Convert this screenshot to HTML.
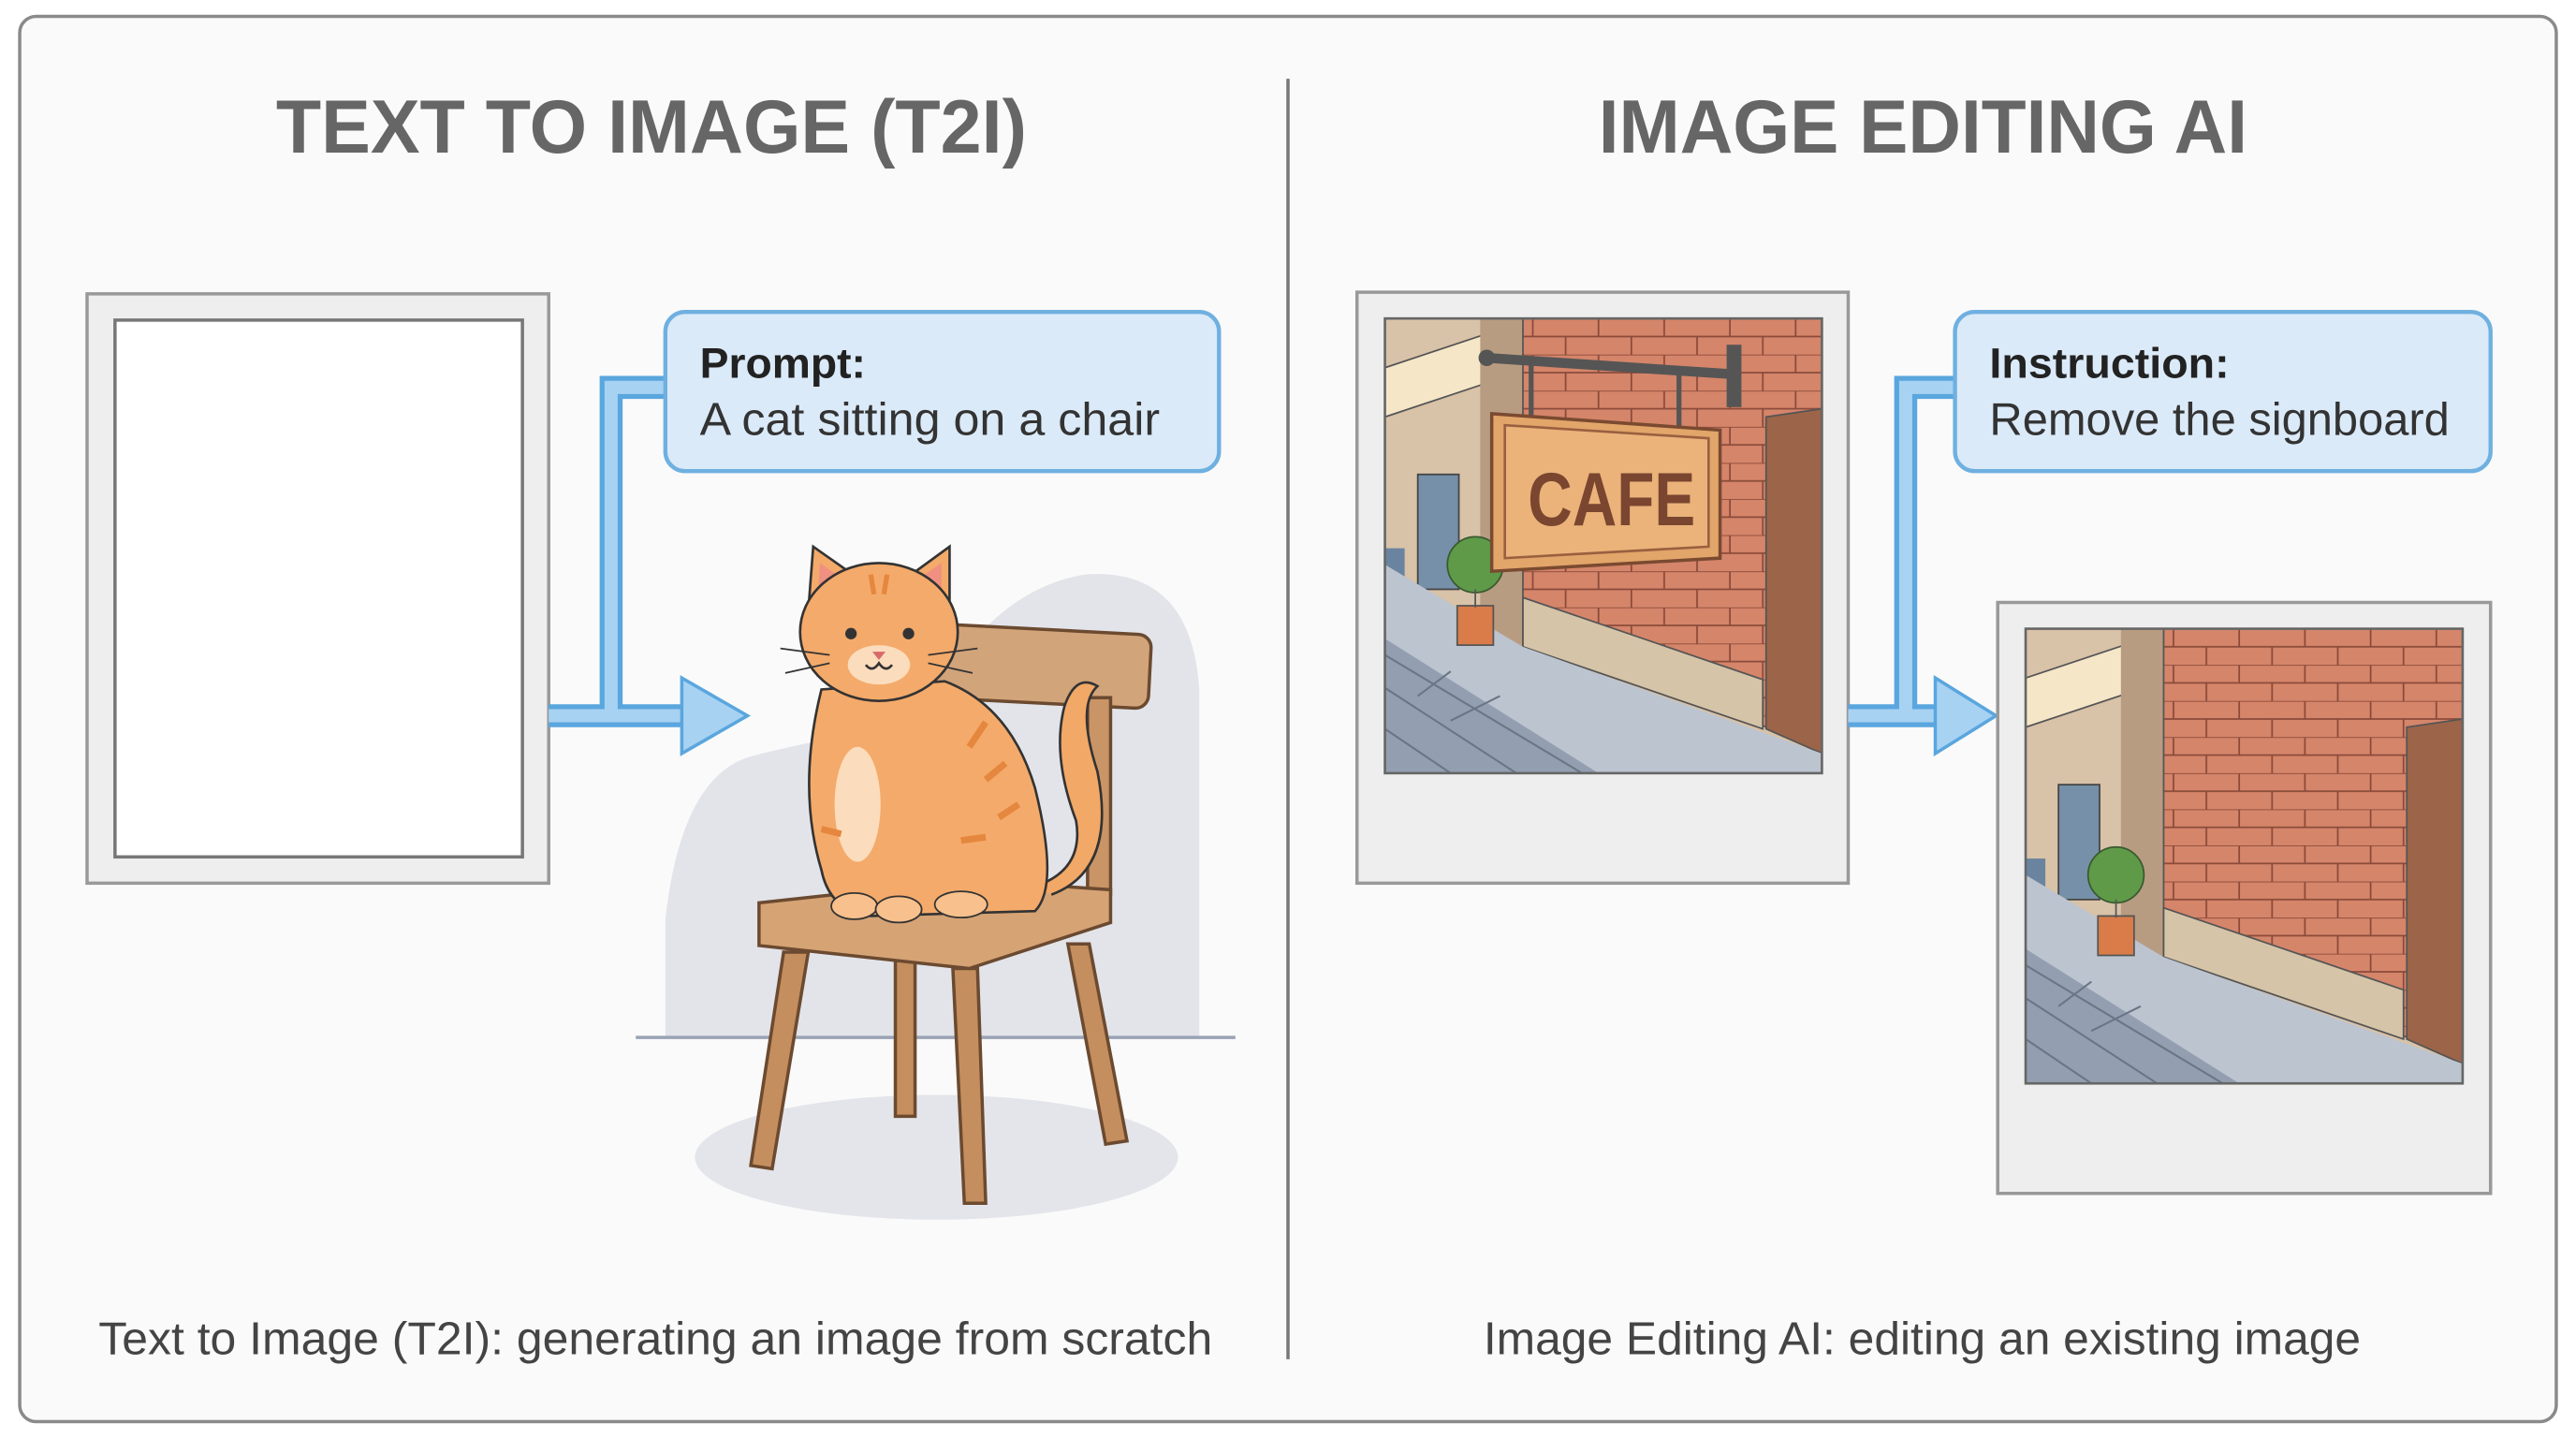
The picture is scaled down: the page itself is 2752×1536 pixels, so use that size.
<!DOCTYPE html>
<html><head><meta charset="utf-8"><style>
html,body{margin:0;padding:0;background:#fff}
svg{display:block}
text{font-family:"Liberation Sans",sans-serif}
</style></head><body>
<svg width="2752" height="1536" viewBox="0 0 1568 876" preserveAspectRatio="none" xmlns="http://www.w3.org/2000/svg">
<defs>
<pattern id="brick" width="40" height="22" patternUnits="userSpaceOnUse">
<rect width="40" height="22" fill="#d5856a"/>
<path d="M0 0H40M0 11H40M10 0V11M30 11V22" stroke="#8a4a3a" stroke-width="1"/>
</pattern>
<g id="street">
<rect x="0" y="0" width="266" height="277" fill="#d8c2a8"/>
<polygon points="0,30 60,10 60,40 0,60" fill="#f5e6c8" stroke="#555" stroke-width="1"/>
<rect x="20" y="95" width="25" height="70" fill="#7590a8" stroke="#444"/>
<rect x="0" y="140" width="12" height="60" fill="#6a84a0"/>
<rect x="58" y="0" width="26" height="200" fill="#b89c82"/>
<polygon points="84,0 266,0 266,260 84,200" fill="url(#brick)" stroke="#555"/>
<polygon points="84,170 230,220 230,250 84,200" fill="#d6c4a8" stroke="#555"/>
<polygon points="232,60 266,55 266,265 232,250" fill="#9c6448" stroke="#555"/>
<polygon points="0,150 84,200 266,265 266,277 0,277" fill="#bcc4cf"/>
<polygon points="0,195 130,277 0,277" fill="#939fb0"/>
<path d="M0 205L120 277M0 225L80 277M0 250L40 277M20 230L40 215M40 245L70 230" stroke="#6b7685" stroke-width="1.2"/>
<rect x="44" y="175" width="22" height="24" fill="#d97c4a" stroke="#555"/>
<circle cx="55" cy="150" r="17" fill="#5f9a48" stroke="#3a5a30"/>
<line x1="55" y1="165" x2="55" y2="176" stroke="#555"/>
<rect x="0" y="0" width="266" height="277" fill="none" stroke="#666" stroke-width="1.5"/>
</g>
</defs>
<rect width="1568" height="876" fill="#fff"/>
<rect x="12" y="10" width="1544" height="856" rx="10" fill="#fafafa" stroke="#8a8a8a" stroke-width="2"/>
<line x1="784" y1="48" x2="784" y2="828" stroke="#777" stroke-width="2"/>
<text x="168" y="93" font-size="46" font-weight="bold" fill="#666" textLength="457" lengthAdjust="spacingAndGlyphs">TEXT TO IMAGE (T2I)</text>
<text x="973" y="93" font-size="46" font-weight="bold" fill="#666" textLength="395" lengthAdjust="spacingAndGlyphs">IMAGE EDITING AI</text>

<rect x="53" y="179" width="281" height="359" fill="#eee" stroke="#999" stroke-width="2"/>
<rect x="70" y="195" width="248" height="327" fill="#fff" stroke="#777" stroke-width="2"/>

<path d="M405 236H372V436M334 436H420" fill="none" stroke="#5aa6de" stroke-width="14"/>
<path d="M405 236H372V436M334 436H420" fill="none" stroke="#a8d2f2" stroke-width="8"/>
<polygon points="415,413 455,436 415,459" fill="#a8d2f2" stroke="#5aa6de" stroke-width="2"/>
<rect x="405" y="190" width="337" height="97" rx="12" fill="#dbeaf8" stroke="#6fb0e0" stroke-width="2.5"/>
<text x="426" y="230" font-size="26" font-weight="bold" fill="#222" textLength="101" lengthAdjust="spacingAndGlyphs">Prompt:</text>
<text x="426" y="265" font-size="28" fill="#333" textLength="280" lengthAdjust="spacingAndGlyphs">A cat sitting on a chair</text>

<path d="M405 560Q415 470 460 460Q500 450 560 440Q600 360 660 350Q725 345 730 420L730 632H405Z" fill="#e2e4ea"/>
<line x1="387" y1="632" x2="752" y2="632" stroke="#9aa3b5" stroke-width="2"/>
<ellipse cx="570" cy="705" rx="147" ry="38" fill="#e3e5ea"/>
<rect x="555" y="383" width="145" height="45" rx="8" fill="#d2a47a" stroke="#6b4a30" stroke-width="2" transform="rotate(3 627 405)"/>
<rect x="662" y="425" width="14" height="120" fill="#c99466" stroke="#6b4a30" stroke-width="2"/>
<polygon points="477,580 492,580 470,712 457,710" fill="#c58e5e" stroke="#6b4a30" stroke-width="2"/>
<polygon points="545,585 557,585 557,680 545,680" fill="#c58e5e" stroke="#6b4a30" stroke-width="2"/>
<polygon points="580,590 595,590 600,733 587,733" fill="#c58e5e" stroke="#6b4a30" stroke-width="2"/>
<polygon points="650,575 663,575 686,695 673,697" fill="#c58e5e" stroke="#6b4a30" stroke-width="2"/>
<path d="M462 550L590 536L676 542L676 562L590 590L462 576Z" fill="#d6a374" stroke="#6b4a30" stroke-width="2"/>
<path d="M640 545Q680 530 668 470Q655 430 668 418Q655 410 648 430Q640 460 655 500Q660 530 630 540" fill="#f2a866" stroke="#333" stroke-width="1.5"/>
<path d="M500 420Q485 480 500 530Q505 555 530 558L630 555Q645 540 630 480Q615 430 575 415Z" fill="#f4aa6a" stroke="#333" stroke-width="1.5"/>
<ellipse cx="522" cy="490" rx="14" ry="35" fill="#fbdcbc"/>
<path d="M600 440L590 455M612 465L600 475M620 490L608 498M500 505L512 508M600 510L585 512" stroke="#e5873e" stroke-width="4"/>
<ellipse cx="520" cy="552" rx="14" ry="8" fill="#f8c08c" stroke="#333"/>
<ellipse cx="547" cy="554" rx="14" ry="8" fill="#f8c08c" stroke="#333"/>
<ellipse cx="585" cy="551" rx="16" ry="8" fill="#f8c08c" stroke="#333"/>
<polygon points="492,372 495,333 522,352" fill="#f4aa6a" stroke="#333" stroke-width="1.5"/>
<polygon points="578,372 578,333 552,352" fill="#f4aa6a" stroke="#333" stroke-width="1.5"/>
<polygon points="498,362 499,343 512,352" fill="#f09080"/>
<polygon points="573,362 573,343 560,352" fill="#f09080"/>
<ellipse cx="535" cy="385" rx="48" ry="42" fill="#f4aa6a" stroke="#333" stroke-width="1.5"/>
<path d="M530 350L532 362M540 350L538 362" stroke="#e5873e" stroke-width="3"/>
<ellipse cx="535" cy="405" rx="19" ry="12" fill="#fbdcbc"/>
<circle cx="518" cy="386" r="3.5" fill="#333"/><circle cx="553" cy="386" r="3.5" fill="#333"/>
<path d="M531 397L539 397L535 402Z" fill="#d86a6a"/>
<path d="M527 405Q531 410 535 404Q539 410 543 405" fill="none" stroke="#333" stroke-width="1.5"/>
<path d="M475 395L505 399M478 410L505 404M595 395L565 399M592 410L565 404" stroke="#333" stroke-width="1"/>

<text x="60" y="825" font-size="28" fill="#444" textLength="678" lengthAdjust="spacingAndGlyphs">Text to Image (T2I): generating an image from scratch</text>

<rect x="826" y="178" width="299" height="360" fill="#eee" stroke="#999" stroke-width="2"/>
<use href="#street" transform="translate(843,194)"/>
<line x1="905" y1="218" x2="1055" y2="228" stroke="#555" stroke-width="6"/>
<circle cx="905" cy="218" r="5" fill="#555"/>
<rect x="1051" y="210" width="9" height="38" fill="#555"/>
<line x1="932" y1="220" x2="932" y2="255" stroke="#555" stroke-width="3"/>
<line x1="1022" y1="226" x2="1022" y2="262" stroke="#555" stroke-width="3"/>
<polygon points="908,252 1047,262 1047,340 908,348" fill="#e2a56a" stroke="#7a4a30" stroke-width="2"/>
<polygon points="916,259 1040,267 1040,333 916,340" fill="#ebb37a" stroke="#9a6040" stroke-width="1.5"/>
<text x="930" y="320" font-size="46" font-weight="bold" fill="#7a4630" textLength="102" lengthAdjust="spacingAndGlyphs">CAFE</text>

<path d="M1190 236H1160V436M1125 436H1182" fill="none" stroke="#5aa6de" stroke-width="14"/>
<path d="M1190 236H1160V436M1125 436H1182" fill="none" stroke="#a8d2f2" stroke-width="8"/>
<polygon points="1178,413 1215,436 1178,459" fill="#a8d2f2" stroke="#5aa6de" stroke-width="2"/>
<rect x="1190" y="190" width="326" height="97" rx="12" fill="#dbeaf8" stroke="#6fb0e0" stroke-width="2.5"/>
<text x="1211" y="230" font-size="26" font-weight="bold" fill="#222" textLength="146" lengthAdjust="spacingAndGlyphs">Instruction:</text>
<text x="1211" y="265" font-size="28" fill="#333" textLength="280" lengthAdjust="spacingAndGlyphs">Remove the signboard</text>

<rect x="1216" y="367" width="300" height="360" fill="#eee" stroke="#999" stroke-width="2"/>
<use href="#street" transform="translate(1233,383)"/>

<text x="903" y="825" font-size="28" fill="#444" textLength="534" lengthAdjust="spacingAndGlyphs">Image Editing AI: editing an existing image</text>
</svg>
</body></html>
